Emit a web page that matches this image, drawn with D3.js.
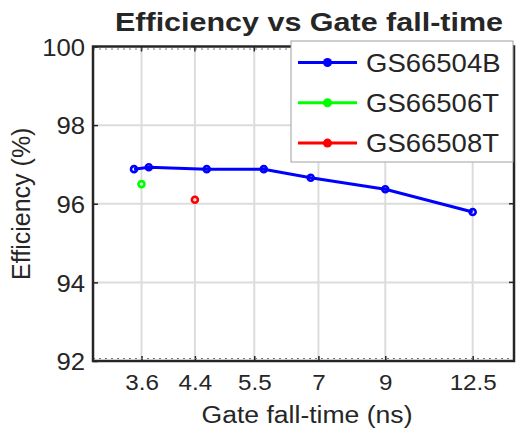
<!DOCTYPE html>
<html>
<head>
<meta charset="utf-8">
<script src="https://cdn.jsdelivr.net/npm/d3@7"></script>
<style>
  body { margin: 0; background: #fff; }
  text { font-family: "Liberation Sans", Arial, sans-serif; fill: #262626; }
</style>
</head>
<body>
<div id="chart"></div>
<script>
// data
const seriesNames = ["GS66504B", "GS66506T", "GS66508T"];
const seriesColors = ["#0000ff", "#00ff00", "#ff0000"];
const b04Time = [3.5, 3.7, 4.6, 5.7, 6.8, 9, 12.5];
const b04Eff = [96.88, 96.93, 96.88, 96.88, 96.66, 96.37, 95.79];
const t06Time = [3.6];
const t06Eff = [96.5];
const t08Time = [4.4];
const t08Eff = [96.1];
const xTicks = [3.6, 4.4, 5.5, 7, 9, 12.5];
const yTicks = [92, 94, 96, 98, 100];

const settings = {
  width: 519,
  height: 434,
  left: 93,
  right: 514,
  top: 46.5,
  bottom: 361,
  lineWidth: 3,
  grid: "#dcdcdc",
  axis: "#262626",
};

const series = [
  { name: seriesNames[0], color: seriesColors[0], x: b04Time, y: b04Eff },
  { name: seriesNames[1], color: seriesColors[1], x: t06Time, y: t06Eff },
  { name: seriesNames[2], color: seriesColors[2], x: t08Time, y: t08Eff },
];

// the reference text is a bit wider than liberation sans, stretch it
function widen(sel, factor) {
  sel.each(function () {
    const len = this.getComputedTextLength();
    d3.select(this)
      .attr("textLength", len * factor)
      .attr("lengthAdjust", "spacingAndGlyphs");
  });
}

function drawChart() {
  const svg = d3.select("#chart")
    .append("svg")
    .attr("width", settings.width)
    .attr("height", settings.height);

  const x = d3.scaleLog().domain([3, 14.6]).range([settings.left, settings.right]);
  const y = d3.scaleLinear().domain([92, 100]).range([settings.bottom, settings.top]);

  // grid
  svg.append("g")
    .selectAll("line")
    .data(xTicks)
    .join("line")
    .attr("x1", d => x(d)).attr("x2", d => x(d))
    .attr("y1", settings.top).attr("y2", settings.bottom)
    .attr("stroke", settings.grid).attr("stroke-width", 2);

  svg.append("g")
    .selectAll("line")
    .data(yTicks.slice(1, -1))
    .join("line")
    .attr("y1", d => y(d)).attr("y2", d => y(d))
    .attr("x1", settings.left).attr("x2", settings.right)
    .attr("stroke", settings.grid).attr("stroke-width", 2);

  // axes (ticks inside, like matlab)
  const xAxis = svg.append("g")
    .attr("transform", `translate(0,${settings.bottom})`)
    .call(d3.axisBottom(x).tickValues(xTicks).tickFormat(d3.format("")).tickSize(-5).tickPadding(13));
  const yAxis = svg.append("g")
    .attr("transform", `translate(${settings.left},0)`)
    .call(d3.axisLeft(y).tickValues(yTicks).tickSize(-5).tickPadding(8));

  [xAxis, yAxis].forEach(a => {
    a.select(".domain").remove();
    a.selectAll("line").attr("stroke", settings.axis).attr("stroke-width", 1.5);
    a.selectAll("text").attr("fill", "#262626")
      .attr("font-family", "Liberation Sans, Arial, sans-serif");
  });
  xAxis.selectAll("text").attr("font-size", "22px");
  yAxis.selectAll("text").attr("font-size", "24px").attr("dy", "0.36em");
  widen(xAxis.selectAll("text"), 1.1);
  widen(yAxis.selectAll("text"), 1.07);

  // top + right ticks
  svg.append("g")
    .selectAll("line")
    .data(xTicks)
    .join("line")
    .attr("x1", d => x(d)).attr("x2", d => x(d))
    .attr("y1", settings.top).attr("y2", settings.top + 5)
    .attr("stroke", settings.axis).attr("stroke-width", 1.5);
  svg.append("g")
    .selectAll("line")
    .data(yTicks)
    .join("line")
    .attr("y1", d => y(d)).attr("y2", d => y(d))
    .attr("x1", settings.right).attr("x2", settings.right - 5)
    .attr("stroke", settings.axis).attr("stroke-width", 1.5);

  // dashed inner edge along top and bottom
  [settings.top + 2.5, settings.bottom - 2.5].forEach(yy => {
    svg.append("line")
      .attr("x1", settings.left).attr("x2", settings.right)
      .attr("y1", yy).attr("y2", yy)
      .attr("stroke", "#777").attr("stroke-width", 1)
      .attr("stroke-dasharray", "2,4");
  });

  // box
  svg.append("rect")
    .attr("x", settings.left).attr("y", settings.top)
    .attr("width", settings.right - settings.left)
    .attr("height", settings.bottom - settings.top)
    .attr("fill", "none")
    .attr("stroke", settings.axis)
    .attr("stroke-width", 2.5);

  // series
  const line = d3.line().x(d => x(d[0])).y(d => y(d[1]));
  series.forEach(s => {
    const pts = s.x.map((v, i) => [v, s.y[i]]);
    const g = svg.append("g");
    g.selectAll("circle")
      .data(pts)
      .join("circle")
      .attr("cx", d => x(d[0]))
      .attr("cy", d => y(d[1]))
      .attr("r", 3)
      .attr("fill", "none")
      .attr("stroke", s.color)
      .attr("stroke-width", 2.6);
    if (pts.length > 1) {
      g.append("path")
        .datum(pts)
        .attr("d", line)
        .attr("fill", "none")
        .attr("stroke", s.color)
        .attr("stroke-width", settings.lineWidth);
    }
  });

  // legend
  const legend = svg.append("g").attr("transform", "translate(291,41)");
  legend.append("rect")
    .attr("width", 222).attr("height", 121)
    .attr("fill", "#fff").attr("stroke", "#a0a0a0").attr("stroke-width", 1);
  series.forEach((s, i) => {
    const cy = 21.5 + i * 40.3;
    legend.append("line")
      .attr("x1", 7).attr("x2", 66)
      .attr("y1", cy).attr("y2", cy)
      .attr("stroke", s.color).attr("stroke-width", settings.lineWidth);
    legend.append("circle")
      .attr("cx", 36.5).attr("cy", cy).attr("r", 4.5)
      .attr("fill", s.color);
    legend.append("text")
      .attr("x", 75).attr("y", cy)
      .attr("dy", "0.36em")
      .attr("font-size", "25px")
      .attr("fill", "#000")
      .text(s.name);
  });
  widen(legend.selectAll("text"), 1.1);

  // titles
  const title = svg.append("text")
    .attr("x", 309)
    .attr("y", 31)
    .attr("text-anchor", "middle")
    .attr("font-size", "25.5px")
    .attr("font-weight", "bold")
    .attr("fill", "#000")
    .text("Efficiency vs Gate fall-time");
  title.attr("textLength", 388).attr("lengthAdjust", "spacingAndGlyphs");

  const xLabel = svg.append("text")
    .attr("x", 307)
    .attr("y", 423)
    .attr("text-anchor", "middle")
    .attr("font-size", "23.5px")
    .text("Gate fall-time (ns)");
  xLabel.attr("textLength", 211).attr("lengthAdjust", "spacingAndGlyphs");

  svg.append("text")
    .attr("transform", `translate(30,${(settings.top + settings.bottom) / 2}) rotate(-90)`)
    .attr("text-anchor", "middle")
    .attr("font-size", "25px")
    .text("Efficiency (%)");
}

drawChart();
</script>
</body>
</html>
